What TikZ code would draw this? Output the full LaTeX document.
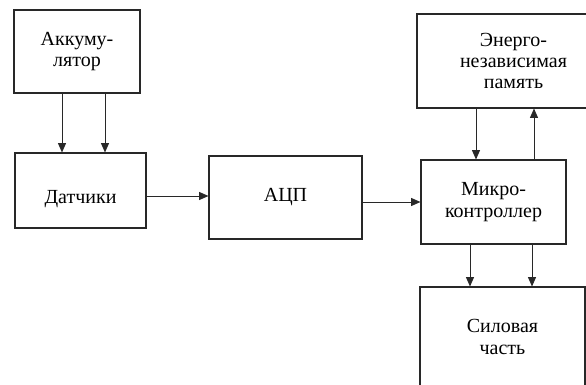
\documentclass[tikz,border=0pt]{standalone}
\usepackage{fontspec}
\setmainfont{Liberation Serif}
\usepackage{xcolor}
\usepackage{tikz}
\usetikzlibrary{arrows.meta,positioning}
\definecolor{corlinha}{RGB}{40,40,40}

\begin{document}
\begin{tikzpicture}[
  x=0.75pt, y=-0.75pt,
  blok/.style={rectangle, draw=corlinha, line width=0.8pt, fill=white,
               inner sep=0pt, align=center,
               font=\fontsize{15}{16}\selectfont},
  strelka/.style={-{Triangle[length=7pt,width=6pt]}, line width=0.7pt, color=corlinha}
]
  \useasboundingbox (0,0) rectangle (586,385);
  \clip (0,0) rectangle (586,385);

  \node[blok, minimum width=126*0.75pt, minimum height=83*0.75pt] (akk) at (77,51.5) {Аккуму-\\ лятор};
  \node[blok, minimum width=131*0.75pt, minimum height=75*0.75pt, text height=22pt] (dat) at (80.5,190.5) {Датчики};
  \node[blok, minimum width=153*0.75pt, minimum height=83*0.75pt] (acp) at (285.5,197.5) {АЦП};
  \node[blok, minimum width=145*0.75pt, minimum height=84*0.75pt] (mk) at (493.5,202) {Микро-\\ контроллер};
  \node[blok, minimum width=193*0.75pt, minimum height=94*0.75pt] (pam) at (513.5,61) {Энерго-\\ независимая\\ память};
  \node[blok, minimum width=165*0.75pt, minimum height=100*0.75pt] (sil) at (502.5,337) {Силовая\\ часть};

  \draw[strelka] ([xshift=-15*0.75pt]akk.south) -- ([xshift=-15*0.75pt]akk.south |- dat.north);
  \draw[strelka] ([xshift=28*0.75pt]akk.south) -- ([xshift=28*0.75pt]akk.south |- dat.north);
  \draw[strelka] ([yshift=-5.5*0.75pt]dat.east) -- ([yshift=-5.5*0.75pt]dat.east -| acp.west);
  \draw[strelka] ([yshift=-4.5*0.75pt]acp.east) -- (mk.west);
  \draw[strelka] ([xshift=-17.5*0.75pt]mk.north |- pam.south) -- ([xshift=-17.5*0.75pt]mk.north);
  \draw[strelka] ([xshift=40.5*0.75pt]mk.north) -- ([xshift=40.5*0.75pt]mk.north |- pam.south);
  \draw[strelka] ([xshift=-23.5*0.75pt]mk.south) -- ([xshift=-23.5*0.75pt]mk.south |- sil.north);
  \draw[strelka] ([xshift=38.5*0.75pt]mk.south) -- ([xshift=38.5*0.75pt]mk.south |- sil.north);
\end{tikzpicture}
\end{document}
